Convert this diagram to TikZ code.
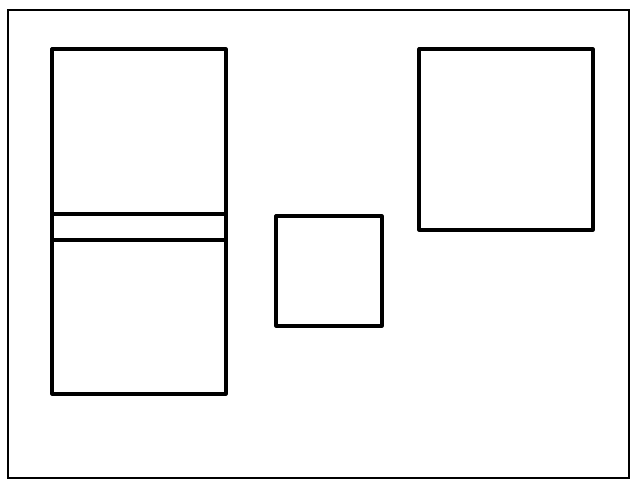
\documentclass[tikz,border=0pt]{standalone}
\begin{document}
\begin{tikzpicture}[x=0.75pt,y=-0.75pt,
  frame/.style={draw=black,line width=1.6pt},
  box/.style={draw=black,line width=2.4pt,line join=round}]
\useasboundingbox (0,0) rectangle (631,481);
\fill[white] (0,0) rectangle (631,481);
\draw[frame] (8,10) rectangle (629,478);
% left tall box with band
\draw[box] (52,49) rectangle (226,394);
\draw[box] (52,214) -- (226,214);
\draw[box] (52,240) -- (226,240);
% middle square
\draw[box] (276,216) rectangle (382,326);
% right box
\draw[box] (419,49) rectangle (593,230);
\end{tikzpicture}
\end{document}
